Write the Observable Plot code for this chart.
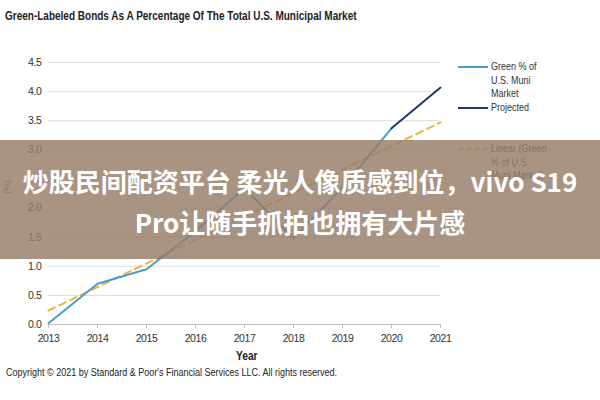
<!DOCTYPE html>
<html><head><meta charset="utf-8">
<script src="https://cdn.jsdelivr.net/npm/d3@7"></script>
<script src="https://cdn.jsdelivr.net/npm/@observablehq/plot@0.6"></script>
<style>
body{margin:0;background:#fff;}
#wrap{position:relative;width:600px;height:400px;overflow:hidden;background:#fff;font-family:"Liberation Sans",Arial,sans-serif;color:#222}
.abs{position:absolute;white-space:nowrap;transform-origin:left center}
.leg{position:absolute;left:491px;font-size:11px;line-height:13.7px;color:#333;white-space:nowrap;transform:scaleX(0.82);transform-origin:left top}
.sw{position:absolute;left:458px;width:30px;height:0}
.band{position:absolute;left:0;top:140px;width:600px;height:119px;background:rgba(150,125,105,0.82)}
.bt{position:absolute;left:0;width:600px;text-align:center;color:#fff;font-family:"Noto Sans CJK SC","Noto Sans",sans-serif;font-weight:bold;font-size:26px;line-height:40px;height:40px;white-space:nowrap}
svg g[aria-label="x-axis tick label"] text, svg g[aria-label="y-axis tick label"] text{letter-spacing:-0.4px}
</style></head><body><div id="wrap"></div>
<script>
const years = [2013, 2014, 2015, 2016, 2017, 2018, 2019, 2020];
const greenShare = [0.02, 0.70, 0.95, 1.60, 2.34, 1.48, 2.35, 3.37];
const projYears = [2020, 2021];
const projected = [3.37, 4.07];
const trendYears = [2013, 2021];
const trend = [0.24, 3.47];
const xTicks = [2013, 2014, 2015, 2016, 2017, 2018, 2019, 2020, 2021];
const yTicks = [0, 0.5, 1.0, 1.5, 2.0, 2.5, 3.0, 3.5, 4.0, 4.5];

const title = "Green-Labeled Bonds As A Percentage Of The Total U.S. Municipal Market";
const caption = "Copyright \u00a9 2021 by Standard &amp; Poor's Financial Services LLC. All rights reserved.";
const legendLabels = [["Green % of", "U.S. Muni", "Market"], ["Projected"], ["Linear (Green", "% of U.S.", "Muni Market)"]];
const overlayLines = ["炒股民间配资平台 柔光人像质感到位，vivo S19", "Pro让随手抓拍也拥有大片感"];

const greenData = years.map((x, i) => ({x, y: greenShare[i]}));
const projData = projYears.map((x, i) => ({x, y: projected[i]}));
const trendData = trendYears.map((x, i) => ({x, y: trend[i]}));

const fmt = d3.format(".1f");
const chart = Plot.plot({
  width: 600, height: 400,
  marginLeft: 48, marginRight: 160, marginTop: 62, marginBottom: 76,
  style: {fontFamily: '"Liberation Sans",Arial,sans-serif', fontSize: "10.5px", color: "#333", background: "transparent"},
  x: {domain: [2013, 2021], label: null},
  y: {domain: [0, 4.5], label: null},
  marks: [
    Plot.gridY(yTicks, {stroke: "#dcdcdc", strokeOpacity: 1}),
    Plot.ruleY([0], {stroke: "#bfbfbf"}),
    Plot.axisY(yTicks, {tickSize: 0, tickPadding: 7, tickFormat: fmt, label: null, fill: "#333"}),
    Plot.axisX(xTicks, {tickSize: 4, tickPadding: 6, stroke: "#bfbfbf", tickFormat: d => String(d), label: null, fill: "#333"}),
    Plot.line(trendData, {x: "x", y: "y", stroke: "#f0b23c", strokeWidth: 2, strokeDasharray: "7,5"}),
    Plot.line(greenData, {x: "x", y: "y", stroke: "#4a9bd1", strokeWidth: 2}),
    Plot.line(projData, {x: "x", y: "y", stroke: "#1b3a63", strokeWidth: 2})
  ]
});

const wrap = document.getElementById("wrap");
chart.style.position = "absolute";
chart.style.left = "0";
chart.style.top = "0";
wrap.appendChild(chart);

function add(html, cls, css) {
  const d = document.createElement("div");
  d.className = cls;
  d.innerHTML = html;
  Object.assign(d.style, css);
  wrap.appendChild(d);
  return d;
}
add(title, "abs", {left: "5px", top: "9px", fontSize: "12.5px", fontWeight: "bold", color: "#222", transform: "scaleX(0.8)"});
add("Year", "abs", {left: "236px", top: "349px", fontSize: "12px", fontWeight: "bold", color: "#222", transform: "scaleX(0.85)"});
add("(%)", "abs", {left: "0px", top: "182px", fontSize: "9px", color: "#333", transform: "rotate(-90deg)", transformOrigin: "center"});
add(caption, "abs", {left: "6px", top: "367px", fontSize: "10px", color: "#222", transform: "scaleX(0.9)"});

// legend
const legTops = [60, 101, 142];
const swTops = [67, 108, 149];
const swStyles = ["2px solid #4a9bd1", "2px solid #1b3a63", "2px dashed #f0b23c"];
legendLabels.forEach((lines, i) => {
  add(lines.join("<br>"), "leg", {top: legTops[i] + "px"});
  add("", "sw", {top: (swTops[i] - 1) + "px", borderTop: swStyles[i]});
});

// overlay band
add("", "band", {});
add(overlayLines[0], "bt", {top: "161px"});
add(overlayLines[1], "bt", {top: "202px"});
</script></body></html>
